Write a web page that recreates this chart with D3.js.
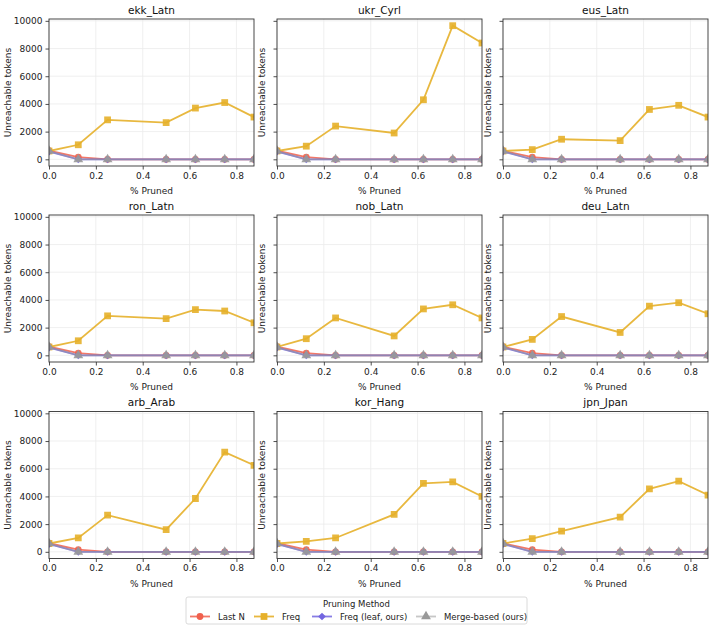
<!DOCTYPE html>
<html>
<head>
<meta charset="utf-8">
<script src="https://cdn.jsdelivr.net/npm/d3@7"></script>
<style>
  body { margin: 0; background: #fff; }
  svg { font-family: "DejaVu Sans", sans-serif; }
</style>
</head>
<body>
<div id="chart"></div>
<script>
// data
var pruned = [0, 0.125, 0.25, 0.5, 0.625, 0.75, 0.875];
var languages = ["ekk_Latn", "ukr_Cyrl", "eus_Latn", "ron_Latn", "nob_Latn", "deu_Latn", "arb_Arab", "kor_Hang", "jpn_Jpan"];

var freqEkk = [600, 1050, 2850, 2650, 3700, 4100, 3050];
var freqUkr = [600, 950, 2400, 1900, 4300, 9650, 8400];
var freqEus = [600, 700, 1450, 1350, 3600, 3900, 3050];
var freqRon = [600, 1050, 2850, 2650, 3300, 3200, 2350];
var freqNob = [600, 1200, 2700, 1400, 3350, 3650, 2700];
var freqDeu = [600, 1150, 2800, 1650, 3550, 3800, 3000];
var freqArb = [600, 1000, 2650, 1600, 3850, 7200, 6250];
var freqKor = [600, 750, 1000, 2700, 4950, 5050, 4000];
var freqJpn = [600, 950, 1500, 2500, 4550, 5100, 4100];
var freqByLang = [freqEkk, freqUkr, freqEus, freqRon, freqNob, freqDeu, freqArb, freqKor, freqJpn];

var lastN = [620, 160, 0, 0, 0, 0, 0];
var freqLeaf = [560, 0, 0, 0, 0, 0, 0];
var mergeBased = [600, 0, 0, 0, 0, 0, 0];

var methods = ["Last N", "Freq", "Freq (leaf, ours)", "Merge-based (ours)"];
var colors = ["#f0604d", "#e6b02a", "#7366e0", "#999999"];
var lineAlpha = [0.85, 0.9, 0.85, 0.55];
var symbols = [d3.symbolCircle, d3.symbolSquare, d3.symbolSquare, d3.symbolTriangle];
var symSizes = [36, 46, 30, 42];
var symRotate = [0, 0, 45, 0];

var yTicks = [0, 2000, 4000, 6000, 8000, 10000];
var xTicks = [0, 0.2, 0.4, 0.6, 0.8];

var W = 713, H = 628;
var colX = [49, 277, 503];
var rowY = [19, 215, 411.5];
var pw = 205, ph = 147;

var svg = d3.select("#chart").append("svg")
    .attr("width", W)
    .attr("height", H);

var ymax = d3.max(freqByLang, function(a) { return d3.max(a); });
var x = d3.scaleLinear().domain([0, 0.875]).range([0, pw]);
var y = d3.scaleLinear().domain([-0.05 * ymax, 1.05 * ymax]).range([ph, 0]);

svg.append("defs").append("clipPath").attr("id", "clip")
  .append("rect").attr("width", pw).attr("height", ph);

function marker(sel, s) {
  sel.attr("d", d3.symbol().type(symbols[s]).size(symSizes[s]))
    .attr("fill", colors[s]);
}

languages.forEach(function(lang, i) {
  var col = i % 3, row = Math.floor(i / 3);
  var g = svg.append("g").attr("transform", "translate(" + colX[col] + "," + rowY[row] + ")");

  // grid
  g.append("g").selectAll("line").data(xTicks).enter().append("line")
    .attr("x1", x).attr("x2", x).attr("y1", 0).attr("y2", ph)
    .attr("stroke", "#ebebeb").attr("stroke-width", 0.8);
  g.append("g").selectAll("line").data(yTicks).enter().append("line")
    .attr("x1", 0).attr("x2", pw).attr("y1", y).attr("y2", y)
    .attr("stroke", "#ebebeb").attr("stroke-width", 0.8);

  var series = [lastN, freqByLang[i], freqLeaf, mergeBased];
  var plot = g.append("g").attr("clip-path", "url(#clip)");
  series.forEach(function(vals, s) {
    var pts = pruned.map(function(p, k) { return [p, vals[k]]; });
    plot.append("path")
      .datum(pts)
      .attr("fill", "none")
      .attr("stroke", colors[s])
      .attr("stroke-opacity", lineAlpha[s])
      .attr("stroke-width", 1.8)
      .attr("d", d3.line().x(function(d) { return x(d[0]); }).y(function(d) { return y(d[1]); }));
    plot.selectAll(null).data(pts).enter().append("path")
      .attr("transform", function(d) {
        return "translate(" + x(d[0]) + "," + y(d[1]) + ") rotate(" + symRotate[s] + ")";
      })
      .call(marker, s)
      .attr("fill-opacity", 0.9);
  });

  // axes
  var xAxis = d3.axisBottom(x).tickValues(xTicks).tickFormat(d3.format(".1f")).tickSize(3.5).tickPadding(3);
  var gx = g.append("g").attr("transform", "translate(0," + ph + ")").call(xAxis);
  var yAxis = d3.axisLeft(y).tickValues(yTicks).tickSize(3.5).tickPadding(3)
    .tickFormat(col === 0 ? d3.format("d") : "");
  var gy = g.append("g").call(yAxis);
  [gx, gy].forEach(function(a) {
    a.select(".domain").remove();
    a.selectAll("text").attr("font-size", 9).attr("fill", "#222").attr("font-family", "DejaVu Sans");
    a.selectAll("line").attr("stroke", "#222").attr("stroke-width", 0.8);
  });

  g.append("rect").attr("width", pw).attr("height", ph)
    .attr("fill", "none").attr("stroke", "#333").attr("stroke-width", 0.9);

  g.append("text").attr("x", pw / 2).attr("y", -5.5)
    .attr("text-anchor", "middle").attr("font-size", 10.5).attr("fill", "#111").text(lang);
  g.append("text").attr("x", pw / 2).attr("y", ph + 28)
    .attr("text-anchor", "middle").attr("font-size", 9).attr("fill", "#222").text("% Pruned");
  var lx = col === 0 ? -38 : -12;
  g.append("text")
    .attr("transform", "translate(" + lx + "," + (ph / 2) + ") rotate(-90)")
    .attr("text-anchor", "middle").attr("font-size", 9).attr("fill", "#222").text("Unreachable tokens");
});

// legend
var leg = svg.append("g").attr("transform", "translate(186,597)");
leg.append("rect").attr("width", 341).attr("height", 27).attr("rx", 2)
  .attr("fill", "#fff").attr("stroke", "#d0d0d0").attr("stroke-width", 0.8);
leg.append("text").attr("x", 170.5).attr("y", 10).attr("text-anchor", "middle")
  .attr("font-size", 8.5).attr("fill", "#222").text("Pruning Method");
var legX = [4, 68, 126, 230];
methods.forEach(function(m, s) {
  var e = leg.append("g").attr("transform", "translate(" + legX[s] + ",19.5)");
  e.append("line").attr("x1", 0).attr("x2", 20).attr("stroke", colors[s])
    .attr("stroke-opacity", lineAlpha[s]).attr("stroke-width", 1.8);
  e.append("path").attr("transform", "translate(10,0) rotate(" + symRotate[s] + ")").call(marker, s);
  e.append("text").attr("x", 28).attr("y", 3.2).attr("font-size", 8.5).attr("fill", "#222").text(m);
});
</script>
</body>
</html>
